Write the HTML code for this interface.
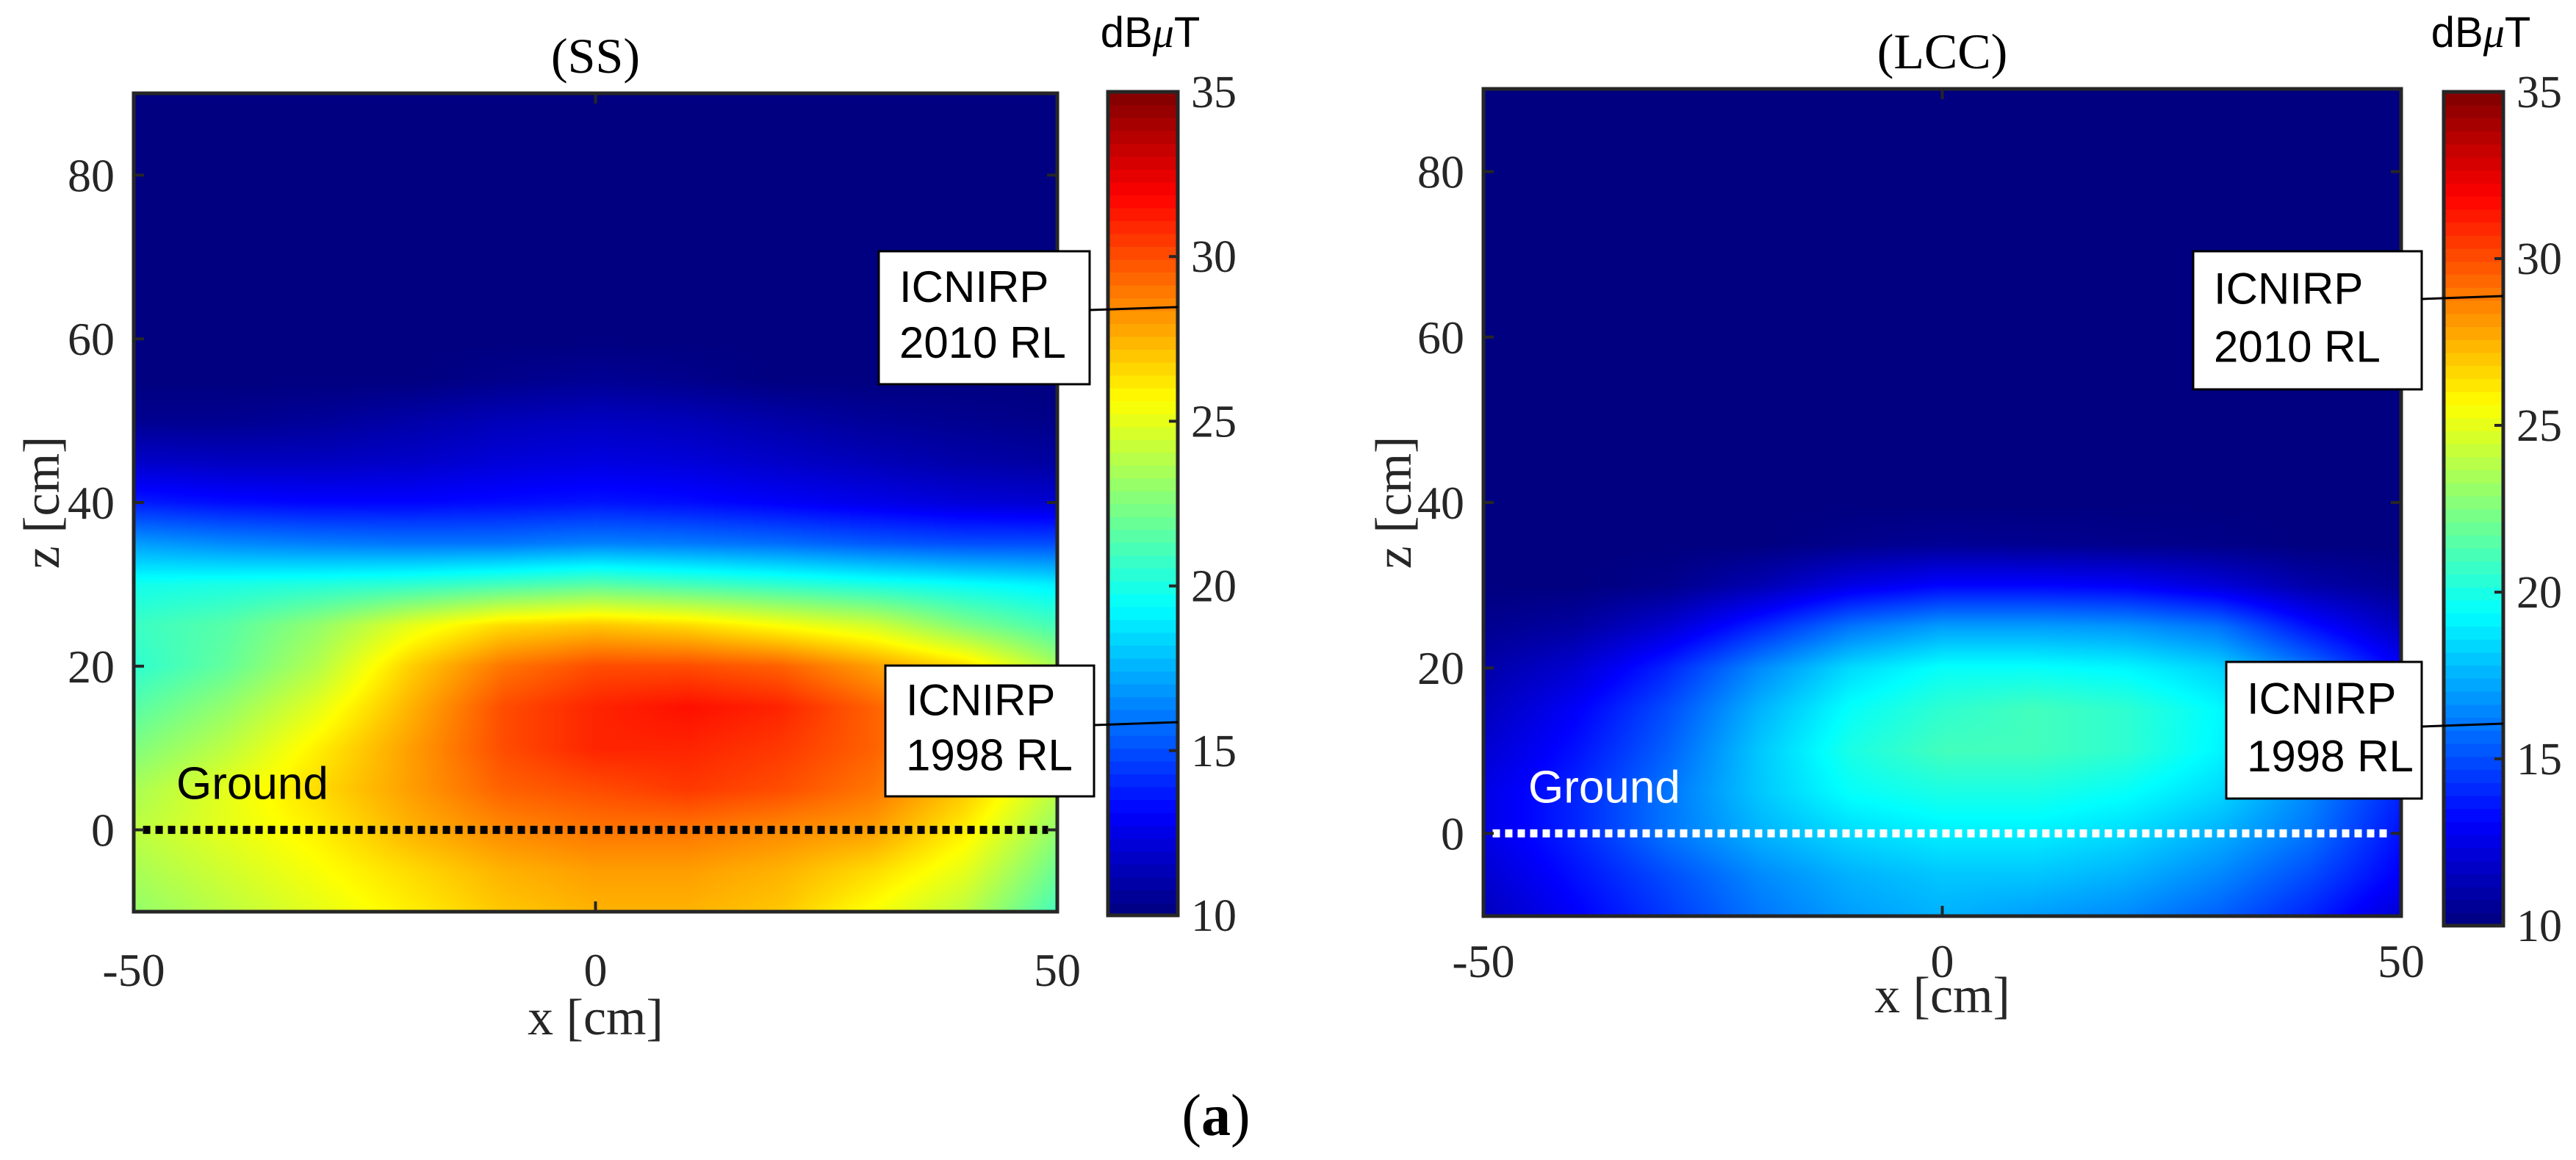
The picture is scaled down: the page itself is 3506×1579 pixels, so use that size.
<!DOCTYPE html>
<html><head><meta charset="utf-8"><style>
html,body{margin:0;padding:0;background:#fff;}
#root{position:relative;width:3506px;height:1579px;overflow:hidden;background:#fff;}
canvas{position:absolute;}
svg{position:absolute;left:0;top:0;}
</style></head><body>
<div id="root">
<canvas id="cSS"></canvas>
<canvas id="cLCC"></canvas>
<svg id="ov" width="3506" height="1579"></svg>
</div>
<script>
// ---- data ----
const xCats = [-50,-40,-30,-20,-10,0,10,20,30,40,50];
const zRows = [90,80,70,60,55,50,45,40,35,30,25,20,15,10,5,0,-5,-10];
const ssValues = [
[10,10,10,10,10,10,10,10,10,10,10],
[10,10,10,10,10,10,10,10,10,10,10],
[10,10,10,10,10,10,10,10,10,10,10],
[10,10,10,10,10,10,10,10,10,10,10],
[10,10,10,10,10.3,10.5,10.3,10,10,10,10],
[10.4,10.4,10.6,11,11.4,11.6,11.4,11,10.6,10.4,10.2],
[11.8,11.6,11.6,11.8,12.2,12.4,12.2,11.8,11.4,11,10.8],
[13.8,13.4,13.2,13.2,13.4,13.6,13.4,13,12.6,12.2,12],
[17,16.5,16.2,16,16,16.3,16.1,15.8,15.3,15,15],
[19.8,20,20.2,20.5,21,21.5,21,20.5,20,19.5,19],
[20.8,21.5,23,25,26.5,27,26.5,25.5,24.5,22.5,21],
[20.5,21.8,23.8,26.8,29,30,30,29.5,28,26.5,23.5],
[21.5,23,25,27.5,30,31,31.5,31,29.5,27.5,24.5],
[22.5,24,26,28,30,31,31,30.5,29.5,27.5,24.5],
[23.5,25,26.5,28,29.5,30,30.5,30,29,27,24],
[24,25,26,27.5,28.5,29,29,28.5,28,26,23],
[23.5,24.5,25.5,26.5,27.5,28,28,27.5,26.5,25,22],
[23,24,25,26,27,27.5,27.5,27,25.5,24,21]
];
const lccValues = [
[10,10,10,10,10,10,10,10,10,10,10],
[10,10,10,10,10,10,10,10,10,10,10],
[10,10,10,10,10,10,10,10,10,10,10],
[10,10,10,10,10,10,10,10,10,10,10],
[10,10,10,10,10,10,10,10,10,10,10],
[10,10,10,10,10,10,10,10,10,10,10],
[10,10,10,10,10,10,10,10,10,10,10],
[10,10,10,10,10,10,10,10,10,10,10],
[10,10,10,10,10.3,10.5,10.4,10.3,10.2,10,10],
[10,10,10.3,11.2,12.5,13.2,13.2,13,12.2,11,10.4],
[10.4,10.8,12,14,16,17,17,16.8,16,13.5,11.5],
[11,12,14,16.5,18.5,19.5,19.5,19.2,18.3,16,13],
[11.5,13,15,17.5,19.5,20.5,21,20.5,19.3,17.3,14],
[12,13.5,15.5,18,20,21,21,20.5,19.2,17.2,14],
[12.5,14,16,18,19.5,20,20,19.5,18.5,16.5,14],
[12.5,14,16,17.5,18.5,19,19,18.5,17.5,16,13.5],
[12,13.5,15,16.5,17.5,18,18,17.5,16.5,15,13],
[11.5,13,14.5,16,17,17.5,17,16.5,15.5,14,12]
];
const xTicks = [-50,0,50];
const zTicks = [0,20,40,60,80];
const cTicks = [10,15,20,25,30,35];
const cMin = 10, cMax = 35;

// ---- helpers ----
function jet(t){
  t=Math.max(0,Math.min(1,t));
  const r=Math.max(0,Math.min(1,1.5-Math.abs(4*t-3)));
  const g=Math.max(0,Math.min(1,1.5-Math.abs(4*t-2)));
  const b=Math.max(0,Math.min(1,1.5-Math.abs(4*t-1)));
  return [Math.round(r*255),Math.round(g*255),Math.round(b*255)];
}
function sample(vals,x,z){
  let xi=(x-xCats[0])/(xCats[1]-xCats[0]);
  xi=Math.max(0,Math.min(xCats.length-1.0001,xi));
  let zi=zRows.length-1.0001;
  for(let i=0;i<zRows.length-1;i++){ if(z<=zRows[i]&&z>=zRows[i+1]){zi=i+(zRows[i]-z)/(zRows[i]-zRows[i+1]);break;} }
  if(z>zRows[0]) zi=0;
  const x0=Math.floor(xi),z0=Math.floor(zi),fx=xi-x0,fz=zi-z0;
  const a=vals[z0][x0],b=vals[z0][x0+1],c=vals[z0+1][x0],d=vals[z0+1][x0+1];
  return (a*(1-fx)+b*fx)*(1-fz)+(c*(1-fx)+d*fx)*fz;
}
const NS='http://www.w3.org/2000/svg';
const svg=document.getElementById('ov');
function el(tag,attrs,text){const e=document.createElementNS(NS,tag);for(const k in attrs)e.setAttribute(k,attrs[k]);if(text!==undefined)e.textContent=text;svg.appendChild(e);return e;}

const panels=[
 {id:'cSS',vals:ssValues,title:'(SS)',ax:{x0:182,x1:1439,y0:127,y1:1241},cb:{x0:1508,x1:1603,y0:125,y1:1246},
  xtY:1342,xlY:1408,zlX:40,groundColor:'#000',gx:240,b2010:[1196,342,1483,523,420],b1998:[1205,906,1489,1084,985],name:'ss'},
 {id:'cLCC',vals:lccValues,title:'(LCC)',ax:{x0:2019,x1:3268,y0:121,y1:1247},cb:{x0:3326,x1:3407,y0:125,y1:1260},
  xtY:1330,xlY:1378,zlX:1880,groundColor:'#fff',gx:2080,b2010:[2985,342,3296,530,405],b1998:[3030,901,3296,1087,987],name:'lcc'}
];

panels.forEach(p=>{
  const a=p.ax, W=a.x1-a.x0, H=a.y1-a.y0;
  const xs=v=>a.x0+(v+50)/100*W;
  const zs=v=>a.y1-(v+10)/100*H;
  const cv=document.getElementById(p.id);
  cv.width=W;cv.height=H;cv.style.left=a.x0+'px';cv.style.top=a.y0+'px';
  const ctx=cv.getContext('2d');const img=ctx.createImageData(W,H);
  for(let j=0;j<H;j++){const z=90-(j+0.5)/H*100;
    for(let i=0;i<W;i++){const x=-50+(i+0.5)/W*100;
      const v=sample(p.vals,x,z);const c=jet((v-cMin)/(cMax-cMin));
      const k=(j*W+i)*4;img.data[k]=c[0];img.data[k+1]=c[1];img.data[k+2]=c[2];img.data[k+3]=255;}}
  ctx.putImageData(img,0,0);

  let g=el('line',{x1:xs(-49),y1:zs(0),x2:xs(49),y2:zs(0),stroke:p.groundColor,'stroke-width':11,'stroke-dasharray':'10 7'});
  
  let gt=el('text',{x:p.gx,y:zs(0)-42,'font-family':'Liberation Sans, Arial, sans-serif','font-size':62,fill:p.groundColor},'Ground');
  

  let fr=el('rect',{x:a.x0,y:a.y0,width:W,height:H,fill:'none',stroke:'#262626','stroke-width':5});
  
  xTicks.forEach(t=>{
    el('line',{x1:xs(t),y1:a.y1,x2:xs(t),y2:a.y1-14,stroke:'#262626','stroke-width':4});
    el('line',{x1:xs(t),y1:a.y0,x2:xs(t),y2:a.y0+14,stroke:'#262626','stroke-width':4});
    let tl=el('text',{x:xs(t),y:p.xtY,'text-anchor':'middle','font-family':'Liberation Serif, serif','font-size':64,fill:'#262626'},String(t));
    
  });
  zTicks.forEach(t=>{
    el('line',{x1:a.x0,y1:zs(t),x2:a.x0+14,y2:zs(t),stroke:'#262626','stroke-width':4});
    el('line',{x1:a.x1,y1:zs(t),x2:a.x1-14,y2:zs(t),stroke:'#262626','stroke-width':4});
    let tl=el('text',{x:a.x0-26,y:zs(t)+22,'text-anchor':'end','font-family':'Liberation Serif, serif','font-size':64,fill:'#262626'},String(t));
    
  });
  let tt=el('text',{x:(a.x0+a.x1)/2,y:a.y0-28,'text-anchor':'middle','font-family':'Liberation Serif, serif','font-size':68,fill:'#000'},p.title);
  
  let xl=el('text',{x:(a.x0+a.x1)/2,y:p.xlY,'text-anchor':'middle','font-family':'Liberation Serif, serif','font-size':70,fill:'#262626'},'x [cm]');
  
  let zl=el('text',{x:0,y:0,transform:`translate(${p.zlX+40},${(a.y0+a.y1)/2}) rotate(-90)`,'text-anchor':'middle','font-family':'Liberation Serif, serif','font-size':70,fill:'#262626'},'z [cm]');
  

  const c=p.cb, CH=c.y1-c.y0, N=64;
  for(let k=0;k<N;k++){const col=jet((k+0.5)/N);
    let r=el('rect',{x:c.x0,y:c.y1-(k+1)*CH/N,width:c.x1-c.x0,height:CH/N+0.8,fill:`rgb(${col[0]},${col[1]},${col[2]})`});
    }
  let cf=el('rect',{x:c.x0,y:c.y0,width:c.x1-c.x0,height:CH,fill:'none',stroke:'#262626','stroke-width':5});
  
  const cs=v=>c.y1-(v-cMin)/(cMax-cMin)*CH;
  cTicks.forEach(t=>{
    el('line',{x1:c.x1,y1:cs(t),x2:c.x1-12,y2:cs(t),stroke:'#262626','stroke-width':4});
    let tl=el('text',{x:c.x1+18,y:cs(t)+21,'font-family':'Liberation Serif, serif','font-size':62,fill:'#262626'},String(t));
    
  });
  let un=el('text',{x:(c.x0+c.x1)/2+10,y:64,'text-anchor':'middle','font-family':'Liberation Sans, Arial, sans-serif','font-size':58,fill:'#000'});
  un.innerHTML='dB<tspan font-style="italic" font-family="Liberation Serif, serif">μ</tspan>T';
  

  [[p.b2010,'2010 RL','icnirp-2010'],[p.b1998,'1998 RL','icnirp-1998']].forEach(([b,l2,nm])=>{
    el('line',{x1:b[2],y1:b[4]+2,x2:c.x1,y2:b[4]-2,stroke:'#000','stroke-width':3});
    let bx=el('rect',{x:b[0],y:b[1],width:b[2]-b[0],height:b[3]-b[1],fill:'#fff',stroke:'#000','stroke-width':3});
    
    const h=b[3]-b[1];
    el('text',{x:b[0]+28,y:b[1]+h*0.38,'font-family':'Liberation Sans, Arial, sans-serif','font-size':60,fill:'#000'},'ICNIRP');
    el('text',{x:b[0]+28,y:b[1]+h*0.80,'font-family':'Liberation Sans, Arial, sans-serif','font-size':60,fill:'#000'},l2);
  });
});
let fa=el('text',{x:1655,y:1545,'text-anchor':'middle','font-family':'Liberation Serif, serif','font-size':80,fill:'#000'});
fa.innerHTML='(<tspan font-weight="bold">a</tspan>)';


</script>
</body></html>
